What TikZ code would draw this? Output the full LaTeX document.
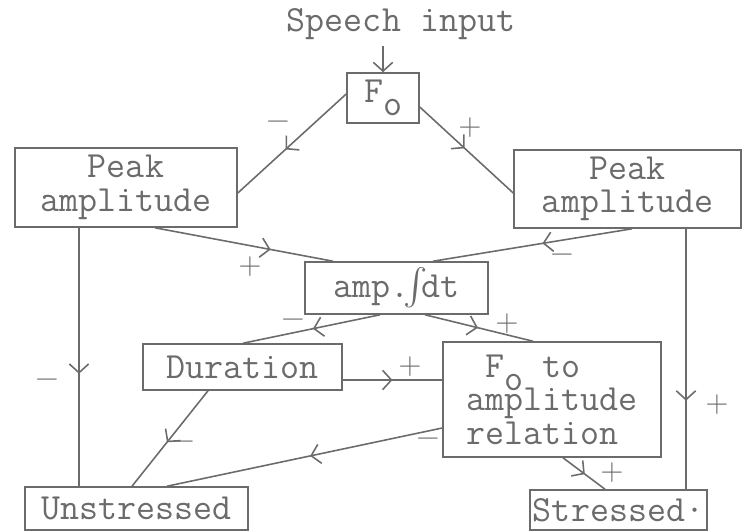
\documentclass[tikz,border=0pt]{standalone}
\usepackage{fontspec}
\usepackage{amsmath}
\usetikzlibrary{calc,arrows.meta,decorations.markings}
\definecolor{ink}{gray}{0.42}
\tikzset{
  box/.style 2 args={draw, inner sep=0pt, minimum width=#1*0.02cm, minimum height=#2*0.02cm},
  midarrow/.style={postaction={decorate}, decoration={markings, mark=at position #1 with {\arrow{Straight Barb[length=5pt,width=11pt]}}}},
  sign/.style={font=\rmfamily\fontsize{18}{18}\selectfont, inner sep=0pt},
}
\begin{document}
\begin{tikzpicture}[x=0.02cm, y=-0.02cm, color=ink, line width=0.9pt,
    font=\ttfamily\fontsize{21}{19}\selectfont]
   \useasboundingbox (0,0) rectangle (744,531);
   \node[] (speech) at (401,24) {Speech input};
   \node[box={72}{50}] (Fo) at (383,98) {F\raisebox{-0.8ex}{o}};
   \node[box={222}{79}, align=center] (pkL) at (126,187.5) {Peak\\amplitude};
   \node[box={227}{78}, align=center] (pkR) at (627.5,189) {Peak\\amplitude};
   \node[box={183}{52}] (amp) at (396.5,288) {amp.$\!\int\!$dt};
   \node[box={199}{46}] (dur) at (242.5,367) {Duration};
   \node[box={218}{115}, align=left] (rel) at (552,399.5) {\ F\raisebox{-0.8ex}[0pt][0pt]{o}\ to\\amplitude\\relation};
   \node[box={223}{43}] (uns) at (136.5,508.5) {Unstressed};
   \node[box={177}{40}] (str) at (618.5,510) {Stressed\textperiodcentered};

   % signs on the connectors
   \node[sign] (sFL) at (278,125) {−};
   \node[sign] (sFR) at (470,128) {+};
   \node[sign] (sLA) at (250,267) {+};
   \node[sign] (sRA) at (562,258) {−};
   \node[sign] (sAD) at (293,323) {−};
   \node[sign] (sAR) at (507,324) {+};
   \node[sign] (sDR) at (410,367) {+};
   \node[sign] (sLU) at (47,383) {−};
   \node[sign] (sDU) at (183,445) {−};
   \node[sign] (sRU) at (428,442) {−};
   \node[sign] (sRS) at (612,473) {+};
   \node[sign] (sPS) at (717,405) {+};

   \draw[-{Straight Barb[length=5pt,width=11pt]}] (speech.south -| Fo.north) -- (Fo.north);

  \path[draw]
    ($(Fo.west)+(0,-4)$) edge[midarrow=0.56] ($(pkL.east)+(0,5.5)$)
    ($(Fo.east)+(0,9)$) edge[midarrow=0.48] ($(pkR.west)+(0,4)$)
    ($(pkL.south)+(29,0)$) edge[midarrow=0.65] ($(amp.north)+(-63.5,0)$)
    ($(pkR.south)+(4.5,0)$) edge[midarrow=0.45] ($(amp.north)+(36.5,0)$)
    ($(amp.south)+(-16.5,0)$) edge[midarrow=0.49] ($(dur.north)+(0.5,0)$)
    ($(amp.south)+(28.5,0)$) edge[midarrow=0.49] ($(rel.north)+(-19,0)$)
    ($(dur.east)+(0,13)$) edge[midarrow=0.5] ($(rel.west)+(0,-19.5)$)
    ($(pkL.south)+(-47,0)$) edge[midarrow=0.565] ($(uns.north)+(-57.5,0)$)
    ($(dur.south)+(-34.5,0)$) edge[midarrow=0.54] ($(uns.north)+(-4.5,0)$)
    ($(rel.west)+(0,28.5)$) edge[midarrow=0.48] ($(uns.north)+(30.5,0)$)
    ($(rel.south)+(11,0)$) edge[midarrow=0.52] ($(str.north)+(-13.5,0)$)
    ($(pkR.south)+(58.5,0)$) edge[midarrow=0.66] ($(str.north)+(67.5,0)$);
\end{tikzpicture}
\end{document}
